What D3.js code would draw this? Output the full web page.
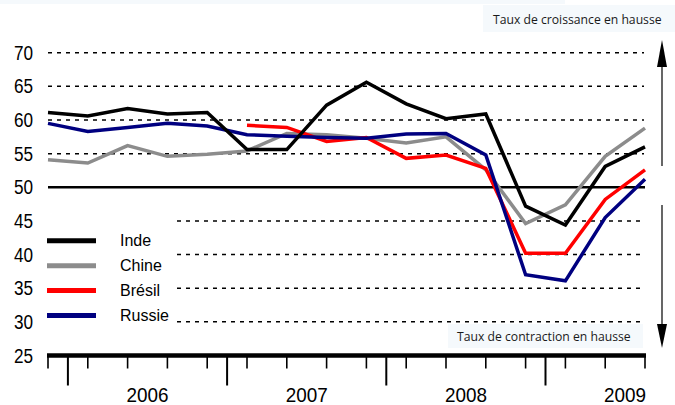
<!DOCTYPE html>
<html>
<head>
<meta charset="utf-8">
<script src="https://cdn.jsdelivr.net/npm/d3@7/dist/d3.min.js"></script>
<style>
  body { margin: 0; background: #fff; }
  svg { display: block; }
</style>
</head>
<body>
<div id="chart"></div>
<script>
// quarterly PMI-like indices, Q4 2005 -> Q3 2009
var quarters = ['2005T4',
  '2006T1', '2006T2', '2006T3', '2006T4',
  '2007T1', '2007T2', '2007T3', '2007T4',
  '2008T1', '2008T2', '2008T3', '2008T4',
  '2009T1', '2009T2', '2009T3'];
var years = ['2006', '2007', '2008', '2009'];

var inde   = [61.1, 60.6, 61.7, 60.9, 61.1, 55.6, 55.6, 62.2, 65.6, 62.4, 60.2, 60.9, 47.2, 44.4, 53.1, 56.0];
var chine  = [54.1, 53.6, 56.2, 54.6, 54.9, 55.4, 58.0, 57.8, 57.3, 56.6, 57.5, 52.6, 44.6, 47.4, 54.6, 58.8];
var bresil = [null, null, null, null, null, 59.2, 58.9, 56.8, 57.4, 54.3, 54.8, 52.8, 40.2, 40.2, 48.2, 52.6];
var russie = [59.5, 58.3, 58.9, 59.5, 59.1, 57.8, 57.6, 57.4, 57.3, 57.9, 58.0, 54.8, 37.0, 36.1, 45.5, 51.2];

var yTicks = [25, 30, 35, 40, 45, 50, 55, 60, 65, 70];
var gridHigh = [55, 60, 65, 70];
var gridLow = [30, 35, 40, 45];

var series = [
  {name: 'Chine', values: chine, color: '#8c8c8c'},
  {name: 'Brésil', values: bresil, color: '#ff0000'},
  {name: 'Russie', values: russie, color: '#000080'},
  {name: 'Inde', values: inde, color: '#000000'}
];
var legendOrder = ['Inde', 'Chine', 'Brésil', 'Russie'];

var W = 675, H = 405;
var svg = d3.select('#chart').append('svg')
  .attr('width', W)
  .attr('height', H);

var x = d3.scalePoint().domain(quarters).range([48, 645]);
var y = d3.scaleLinear().domain([25, 70]).range([355.5, 52.7]);
var step = x.step();

// faint strip at the very top
svg.append('rect')
  .attr('x', 0).attr('y', 0)
  .attr('width', 565).attr('height', 4)
  .attr('fill', '#f5f9fc');

// dashed grid
var grid = svg.append('g');
grid.selectAll('line.hi')
  .data(gridHigh)
  .enter().append('line')
  .attr('x1', 48).attr('x2', 644)
  .attr('y1', y).attr('y2', y);
grid.selectAll('line.lo')
  .data(gridLow)
  .enter().append('line')
  .attr('x1', 177).attr('x2', 644)
  .attr('y1', y).attr('y2', y);
grid.selectAll('line')
  .attr('stroke', '#000')
  .attr('stroke-width', 1.5)
  .attr('stroke-dasharray', '4,5');

// 50 reference line
svg.append('line')
  .attr('x1', 48).attr('x2', 645)
  .attr('y1', y(50)).attr('y2', y(50))
  .attr('stroke', '#000')
  .attr('stroke-width', 2.6);

// y labels (slightly condensed, like the original)
svg.append('g').selectAll('text')
  .data(yTicks)
  .enter().append('text')
  .attr('transform', function(d){ return 'translate(33,' + y(d) + ') scale(0.88,1)'; })
  .attr('dy', '0.36em')
  .attr('text-anchor', 'end')
  .attr('font-family', 'Liberation Sans, Arial, sans-serif')
  .attr('font-size', 19.5)
  .text(function(d){ return d; });

// lines
var line = d3.line()
  .defined(function(d){ return d !== null; })
  .x(function(d, i){ return x(quarters[i]); })
  .y(function(d){ return y(d); });

svg.append('g').selectAll('path')
  .data(series)
  .enter().append('path')
  .attr('d', function(s){ return line(s.values); })
  .attr('fill', 'none')
  .attr('stroke', function(s){ return s.color; })
  .attr('stroke-width', 3.5)
  .attr('stroke-linejoin', 'miter');

// x axis
var axisY = y(25);
svg.append('line')
  .attr('x1', 47).attr('x2', 646)
  .attr('y1', axisY).attr('y2', axisY)
  .attr('stroke', '#000')
  .attr('stroke-width', 4.5);

svg.append('g').selectAll('line')
  .data(quarters)
  .enter().append('line')
  .attr('x1', function(d){ return x(d); })
  .attr('x2', function(d){ return x(d); })
  .attr('y1', axisY).attr('y2', axisY + 13)
  .attr('stroke', '#000')
  .attr('stroke-width', 1.6);

// year boundaries: between T4 and T1
var bounds = years.map(function(yr){ return x(yr + 'T1') - step / 2; });
svg.append('g').selectAll('line')
  .data(bounds)
  .enter().append('line')
  .attr('x1', function(d){ return d; })
  .attr('x2', function(d){ return d; })
  .attr('y1', axisY).attr('y2', axisY + 30)
  .attr('stroke', '#000')
  .attr('stroke-width', 2);

svg.append('g').selectAll('text')
  .data(years)
  .enter().append('text')
  .attr('transform', function(yr){
    return 'translate(' + (x(yr + 'T1') + step * 1.5) + ',401.5) scale(0.9,1)';
  })
  .attr('text-anchor', 'middle')
  .attr('font-family', 'Liberation Sans, Arial, sans-serif')
  .attr('font-size', 21)
  .text(function(d){ return d; });

// legend
var lg = svg.append('g');
var lgY = d3.scalePoint().domain(legendOrder).range([240.7, 315.5]);
legendOrder.forEach(function(name){
  var s = series.filter(function(d){ return d.name === name; })[0];
  lg.append('line')
    .attr('x1', 47).attr('x2', 96)
    .attr('y1', lgY(name)).attr('y2', lgY(name))
    .attr('stroke', s.color)
    .attr('stroke-width', 5);
  lg.append('text')
    .attr('x', 120)
    .attr('y', lgY(name))
    .attr('dy', '0.36em')
    .attr('font-family', 'Liberation Sans, Arial, sans-serif')
    .attr('font-size', 16)
    .text(name);
});

// annotations
svg.append('rect')
  .attr('x', 483).attr('y', 5)
  .attr('width', 192).attr('height', 27)
  .attr('fill', '#f5f9fc');
svg.append('text')
  .attr('x', 493).attr('y', 20)
  .attr('dy', '0.35em')
  .attr('font-family', 'Open Sans, sans-serif')
  .attr('font-size', 12.2)
  .attr('fill', '#1a1a1a')
  .text('Taux de croissance en hausse');

svg.append('rect')
  .attr('x', 448).attr('y', 324)
  .attr('width', 195).attr('height', 24)
  .attr('fill', '#f5f9fc');
svg.append('text')
  .attr('x', 457).attr('y', 337)
  .attr('dy', '0.35em')
  .attr('font-family', 'Open Sans, sans-serif')
  .attr('font-size', 12.2)
  .attr('fill', '#1a1a1a')
  .text('Taux de contraction en hausse');

// arrows
var ax = 662;
svg.append('line')
  .attr('x1', ax).attr('x2', ax)
  .attr('y1', 60).attr('y2', 166)
  .attr('stroke', '#000').attr('stroke-width', 1.2);
svg.append('path')
  .attr('d', 'M' + ax + ',40 L' + (ax - 5) + ',67 L' + (ax + 5) + ',67 Z')
  .attr('fill', '#000');
svg.append('line')
  .attr('x1', ax).attr('x2', ax)
  .attr('y1', 205).attr('y2', 330)
  .attr('stroke', '#000').attr('stroke-width', 1.2);
svg.append('path')
  .attr('d', 'M' + ax + ',348 L' + (ax - 5) + ',324 L' + (ax + 5) + ',324 Z')
  .attr('fill', '#000');
</script>
</body>
</html>
